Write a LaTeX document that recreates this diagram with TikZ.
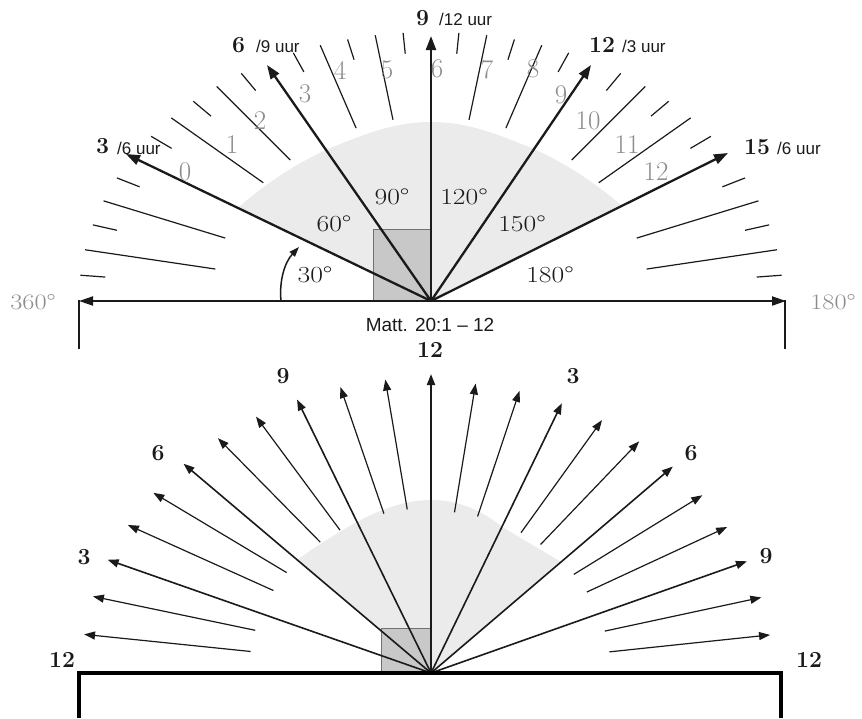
\documentclass[tikz,border=0pt]{standalone}
\usepackage{graphicx}
\usepackage{fontspec}
\newfontfamily\arialf{Liberation Sans}
\usetikzlibrary{arrows.meta}
\definecolor{domegray}{HTML}{EBEBEB}
\definecolor{rectgray}{HTML}{C8C8C8}
\definecolor{rectedge}{HTML}{707070}
\definecolor{numgray}{HTML}{8C8C8C}
\definecolor{ink}{HTML}{1A1A1A}
\newcommand\xstretch[1]{\scalebox{1.2}[1]{#1}}
\begin{document}
\begin{tikzpicture}[x=1pt,y=-1pt,
  tickline/.style={line width=1.2pt,ink},
  mainarrow/.style={line width=2.3pt,ink,-{Triangle[length=14pt,width=10pt]}},
  axisline/.style={line width=2pt,ink,{Triangle[length=14pt,width=9pt]}-{Triangle[length=14pt,width=9pt]}},
  dropline/.style={line width=2.5pt,ink},
  arcarrow/.style={line width=1.5pt,ink,-{Triangle[length=10pt,width=7pt]}},
  hourarrow/.style={line width=1.2pt,ink,-{Triangle[length=11pt,width=8pt]}},
  fullarrow/.style={line width=1.6pt,ink,-{Triangle[length=11pt,width=8pt]}},
  frameline/.style={line width=4pt,black},
  graynum/.style={inner sep=0pt,text=numgray,font=\fontsize{27}{27}\selectfont},
  degtxt/.style={inner sep=0pt,text=ink,font=\fontsize{23}{23}\selectfont},
  enddeg/.style={inner sep=0pt,text=numgray,font=\fontsize{22}{22}\selectfont},
  bignum/.style={inner sep=0pt,anchor=base west,text=ink,font=\fontsize{23}{23}\selectfont\bfseries},
  uurtxt/.style={inner sep=0pt,anchor=base west,text=ink,font=\arialf\fontsize{17}{17}\selectfont},
  hournum/.style={inner sep=0pt,text=ink,font=\fontsize{23}{23}\selectfont\bfseries},
  matttxt/.style={inner sep=0pt,text=ink,font=\arialf\fontsize{19}{19}\selectfont}
]
\useasboundingbox (0,0) rectangle (862,718);

% ================= TOP HALF =================
\coordinate (O) at (431,301);
\begin{scope}
  \clip (O) -- (126,154) -- (126,0) -- (728,0) -- (728,153) -- cycle;
  \fill[domegray] (215,301) -- (215,228) -- (225,220)
    .. controls (250,195) and (290,165) .. (333,147)
    .. controls (365,134) and (395,122) .. (431,122)
    .. controls (467,122) and (497,134) .. (529,147)
    .. controls (572,165) and (612,195) .. (637,220)
    -- (647,228) -- (647,301) -- cycle;
\end{scope}
\fill[rectgray,draw=rectedge,line width=0.8pt] (373,229) rectangle (431,301);

% ticks
\foreach \t in {5,10,...,175} {
  \pgfmathtruncatemacro\m{mod(\t,30)}
  \ifnum\m=0 \else
    \pgfmathsetmacro\R{269+27*cos(\t)*cos(\t)}
    \ifnum\m=10 \def\ri{184}\else\ifnum\m=20 \def\ri{184}\else\pgfmathsetmacro\ri{\R-21}\fi\fi
    \draw[tickline] ({431+1.19*\ri*cos(\t)},{301-\ri*sin(\t)}) -- ({431+1.19*\R*cos(\t)},{301-\R*sin(\t)});
  \fi
}

% main arrows
\coordinate (T3) at (126,154);
\coordinate (T6) at (267,65);
\coordinate (T9) at (431,36);
\coordinate (T12) at (591,65);
\coordinate (T15) at (728,153);
\foreach \n in {T3,T6,T9,T12,T15} \draw[mainarrow] (O) -- (\n);

% axis
\coordinate (AL) at (79,301);
\coordinate (AR) at (786,301);
\coordinate (DL) at (79,349);
\coordinate (DR) at (785,349);
\draw[axisline] (AL) -- (AR);
\draw[dropline] (79,300) -- (DL);
\draw[dropline] (785,300) -- (DR);

% 30 degree arc
\coordinate (A1) at (281,301);
\coordinate (A2) at (299,247);
\draw[arcarrow] (A1) .. controls (279,280) and (285,262) .. (A2);

% gray tick numbers
\node[graynum] (n0) at (185,172) {0};
\node[graynum] (n1) at (232,145) {1};
\node[graynum] (n2) at (260,121) {2};
\node[graynum] (n3) at (305,94) {3};
\node[graynum] (n4) at (340,70) {4};
\node[graynum] (n5) at (387,70) {5};
\node[graynum] (n6) at (437,69) {6};
\node[graynum] (n7) at (487,70) {7};
\node[graynum] (n8) at (533,69) {8};
\node[graynum] (n9) at (561,95) {9};
\node[graynum] (n10) at (588,121) {10};
\node[graynum] (n11) at (627,145) {11};
\node[graynum] (n12) at (656,172) {12};

% hour labels
\node[bignum] (h3) at (96,153) {3};
\node[uurtxt] (u3) at (117,154) {/6 uur};
\node[bignum] (h6) at (232,52) {6};
\node[uurtxt] (u6) at (256,52) {/9 uur};
\node[bignum] (h9) at (416,25) {9};
\node[uurtxt] (u9) at (439,25) {/12 uur};
\node[bignum] (h12) at (589,52) {12};
\node[uurtxt] (u12) at (622,52) {/3 uur};
\node[bignum] (h15) at (744,154) {15};
\node[uurtxt] (u15) at (777,154) {/6 uur};

% degree labels
\node[degtxt] (d90) at (392,197) {\xstretch{90°}};
\node[degtxt] (d60) at (334,224) {\xstretch{60°}};
\node[degtxt] (d30) at (315,275) {\xstretch{30°}};
\node[degtxt] (d120) at (464,197) {\xstretch{120°}};
\node[degtxt] (d150) at (522,224) {\xstretch{150°}};
\node[degtxt] (d180) at (550,275) {\xstretch{180°}};
\node[enddeg] (e360) at (33,302) {\xstretch{360°}};
\node[enddeg] (e180) at (833,302) {\xstretch{180°}};

\node[matttxt] (matt) at (430,325) {Matt. 20:1 – 12};

% ================= BOTTOM HALF =================
\coordinate (Ob) at (431,673);
\begin{scope}
  \clip (Ob) -- (184,464) -- (184,380) -- (673,380) -- (673,467) -- cycle;
  \fill[domegray] (285,673) -- (285,568) -- (291,564)
    .. controls (311,550) and (333,535) .. (357,522)
    .. controls (381,509) and (406,500) .. (431,500)
    .. controls (456,500) and (478,508) .. (501,526)
    .. controls (520,538) and (545,552) .. (571,568)
    -- (580,575) -- (580,673) -- cycle;
\end{scope}
\fill[rectgray,draw=rectedge,line width=0.8pt] (381,628) rectangle (431,673);

\foreach \k in {1,...,11} {
  \pgfmathsetmacro\p{7.5*\k}
  \pgfmathtruncatemacro\m{mod(\k,3)}
  \coordinate (BL\k) at ({431-350*cos(\p)},{673-296*sin(\p)});
  \coordinate (BR\k) at ({431+342*cos(\p)},{673-292*sin(\p)});
  \ifnum\m=0
    \draw[fullarrow] (Ob) -- (BL\k);
    \draw[fullarrow] (Ob) -- (BR\k);
  \else
    \coordinate (SL\k) at ({431-182*cos(\p)},{673-165*sin(\p)});
    \coordinate (SR\k) at ({431+180*cos(\p)},{673-162*sin(\p)});
    \draw[hourarrow] (SL\k) -- (BL\k);
    \draw[hourarrow] (SR\k) -- (BR\k);
  \fi
}
\coordinate (BV) at (431,374);
\draw[fullarrow,line width=2pt] (Ob) -- (BV);

\draw[frameline] (79,718) -- (79,673) -- (781,673) -- (781,718);

\node[hournum] (b12t) at (430,350) {12};
\node[hournum] (b9l) at (283,376) {9};
\node[hournum] (b6l) at (158,453) {6};
\node[hournum] (b3l) at (84,557) {3};
\node[hournum] (b12l) at (62,660) {12};
\node[hournum] (b3r) at (573,376) {3};
\node[hournum] (b6r) at (691,453) {6};
\node[hournum] (b9r) at (766,556) {9};
\node[hournum] (b12r) at (809,660) {12};
\end{tikzpicture}
\end{document}
